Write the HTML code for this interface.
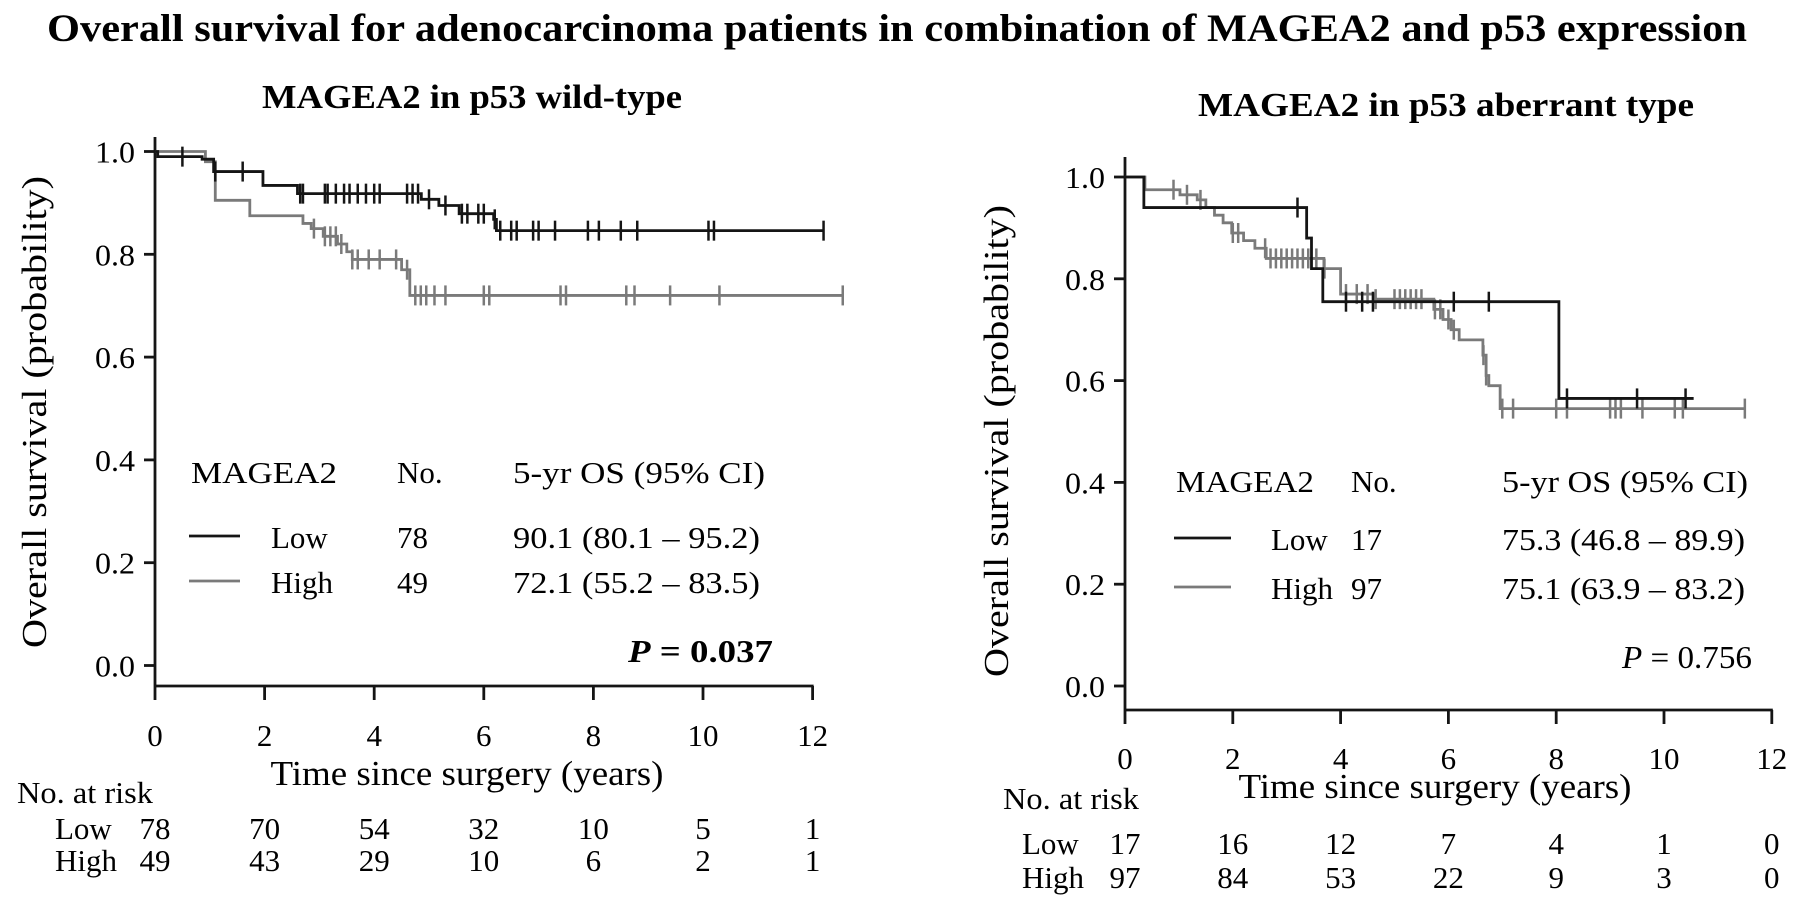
<!DOCTYPE html>
<html><head><meta charset="utf-8">
<style>
html,body{margin:0;padding:0;background:#fff;}
svg{display:block;font-family:"Liberation Serif",serif;}
</style></head>
<body>
<svg id="chart" width="1795" height="904" viewBox="0 0 1795 904" xmlns="http://www.w3.org/2000/svg">
<text x="897" y="41" text-anchor="middle" font-size="39" font-weight="bold" textLength="1700" lengthAdjust="spacingAndGlyphs">Overall survival  for adenocarcinoma patients in combination of MAGEA2 and p53 expression</text>
<text x="472" y="108" text-anchor="middle" font-size="34" font-weight="bold" textLength="420" lengthAdjust="spacingAndGlyphs">MAGEA2 in p53 wild-type</text>
<text x="1446" y="116" text-anchor="middle" font-size="34" font-weight="bold" textLength="496" lengthAdjust="spacingAndGlyphs">MAGEA2 in p53 aberrant type</text>
<g id="left"></g>
<g id="right"></g>
</svg>
<script>
// ---- data ----
const xTicks = [0,2,4,6,8,10,12];
const yTicks = [0.0,0.2,0.4,0.6,0.8,1.0];
const yTickLabels = ["0.0","0.2","0.4","0.6","0.8","1.0"];

// Left panel (p53 wild-type)
const wtLowTimes = [0,0.05,0.86,1.07,1.97,2.6,4.86,5.18,5.55,6.18,6.23,12.2];
const wtLowSurv  = [1.0,0.99,0.985,0.961,0.934,0.918,0.907,0.895,0.879,0.868,0.846,0.846];
const wtLowCens  = [0.5,1.1,1.6,2.65,2.7,3.1,3.15,3.3,3.45,3.55,3.7,3.85,4.0,4.1,4.6,4.7,4.8,5.0,5.3,5.6,5.7,5.9,6.0,6.2,6.3,6.5,6.6,6.9,7.0,7.3,7.9,8.1,8.5,8.8,10.1,10.2,12.2];
const wtHighTimes = [0,0.92,1.1,1.73,2.7,2.85,3.07,3.33,3.5,3.6,4.5,4.65,12.55];
const wtHighSurv  = [1.0,0.98,0.905,0.875,0.86,0.85,0.835,0.82,0.805,0.79,0.77,0.72,0.72];
const wtHighCens  = [2.9,3.1,3.2,3.3,3.4,3.6,3.7,3.9,4.1,4.4,4.6,4.75,4.85,4.95,5.1,5.3,6.0,6.1,7.4,7.5,8.6,8.75,9.4,10.3,12.55];
const wtRiskLow  = [78,70,54,32,10,5,1];
const wtRiskHigh = [49,43,29,10,6,2,1];

// Right panel (p53 aberrant)
const abLowTimes = [0,0.35,3.37,3.46,3.67,8.05,10.55];
const abLowSurv  = [1.0,0.94,0.88,0.82,0.755,0.565,0.565];
const abLowCens  = [3.2,4.1,4.4,4.6,6.1,6.75,8.2,9.5,10.4];
const abHighTimes = [0,0.37,1.02,1.34,1.5,1.66,1.82,1.98,2.2,2.41,2.62,3.69,4.0,4.64,5.73,5.9,6.05,6.2,6.64,6.7,6.75,6.96,11.5];
const abHighSurv  = [1.0,0.975,0.965,0.955,0.94,0.925,0.91,0.89,0.875,0.86,0.84,0.82,0.77,0.76,0.74,0.72,0.70,0.68,0.65,0.61,0.59,0.545,0.545];
const abHighCens  = [0.9,1.15,1.4,2.0,2.1,2.6,2.7,2.8,2.9,3.0,3.1,3.2,3.3,3.4,3.55,3.7,4.1,4.3,4.5,4.65,5.0,5.1,5.2,5.3,5.4,5.5,5.75,5.85,6.0,6.1,6.65,6.7,7.0,7.2,8.0,8.2,9.0,9.1,9.2,9.6,10.2,10.35,11.5];
const abRiskLow  = [17,16,12,7,4,1,0];
const abRiskHigh = [97,84,53,22,9,3,0];

const NS = "http://www.w3.org/2000/svg";
function mk(parent, tag, attrs, txt){
  const e = document.createElementNS(NS, tag);
  for (const k in attrs) e.setAttribute(k, attrs[k]);
  if (txt !== undefined) e.textContent = txt;
  parent.appendChild(e);
  return e;
}
const BLACK = "#151515", GRAY = "#7a7a7a";
const FS = 31;

function panel(g, cfg){
  const X = t => cfg.x0 + t * cfg.pxPerYear;
  const Y = p => cfg.y0 - p * cfg.pxPerUnit;
  const ya = mk(g,"line",{x1:cfg.x0,y1:cfg.axTop,x2:cfg.x0,y2:cfg.xAxisY,stroke:BLACK,"stroke-width":2.8});
  
  
  const xa = mk(g,"line",{x1:cfg.x0-1,y1:cfg.xAxisY,x2:X(12)+1,y2:cfg.xAxisY,stroke:BLACK,"stroke-width":2.8});
  
  
  yTicks.forEach((v,i)=>{
    const tk = mk(g,"line",{x1:cfg.x0-11,y1:Y(v),x2:cfg.x0,y2:Y(v),stroke:BLACK,"stroke-width":2.8});
    
    
    const lb = mk(g,"text",{x:cfg.x0-20,y:Y(v)+11,"text-anchor":"end","font-size":FS,textLength:40,lengthAdjust:"spacingAndGlyphs"},yTickLabels[i]);
    
    
  });
  xTicks.forEach((v,i)=>{
    const tk = mk(g,"line",{x1:X(v),y1:cfg.xAxisY,x2:X(v),y2:cfg.xAxisY+14,stroke:BLACK,"stroke-width":2.8});
    
    
    const lb = mk(g,"text",{x:X(v),y:cfg.xLabY,"text-anchor":"middle","font-size":FS},String(v));
    
    
    const rl = mk(g,"text",{x:X(v),y:cfg.riskLowY,"text-anchor":"middle","font-size":FS},String(cfg.riskLow[i]));
    
    
    const rh = mk(g,"text",{x:X(v),y:cfg.riskHighY,"text-anchor":"middle","font-size":FS},String(cfg.riskHigh[i]));
    
    
  });
  function curve(times, surv, cens, color, name){
    let d = "M"+X(times[0])+","+Y(surv[0]);
    for (let i=1;i<times.length;i++){
      d += " H"+X(times[i])+" V"+Y(surv[i]);
    }
    const p = mk(g,"path",{d:d,fill:"none",stroke:color,"stroke-width":2.8});
    
    
    cens.forEach(t=>{
      let s = surv[0];
      for (let i=0;i<times.length;i++){ if (times[i] <= t) s = surv[i]; }
      const c = mk(g,"line",{x1:X(t),y1:Y(s)-10,x2:X(t),y2:Y(s)+10,stroke:color,"stroke-width":2.5});
      
      
    });
  }
  curve(cfg.highT, cfg.highS, cfg.highC, GRAY, 'high');
  curve(cfg.lowT, cfg.lowS, cfg.lowC, BLACK, 'low');
}

panel(document.getElementById('left'), {
  x0:155, pxPerYear:54.8, y0:665.5, pxPerUnit:514, axTop:137, xAxisY:686, xLabY:746,
  riskLow:wtRiskLow, riskHigh:wtRiskHigh, riskLowY:839, riskHighY:871,
  lowT:wtLowTimes, lowS:wtLowSurv, lowC:wtLowCens,
  highT:wtHighTimes, highS:wtHighSurv, highC:wtHighCens
});
panel(document.getElementById('right'), {
  x0:1125, pxPerYear:53.9, y0:686, pxPerUnit:509, axTop:157, xAxisY:710, xLabY:769,
  riskLow:abRiskLow, riskHigh:abRiskHigh, riskLowY:854, riskHighY:888,
  lowT:abLowTimes, lowS:abLowSurv, lowC:abLowCens,
  highT:abHighTimes, highS:abHighSurv, highC:abHighCens
});
</script>
<svg style="position:absolute;left:0;top:0" width="1795" height="904" xmlns="http://www.w3.org/2000/svg" font-family="Liberation Serif, serif">
<text transform="translate(46,412) rotate(-90)" text-anchor="middle" font-size="35" textLength="472" lengthAdjust="spacingAndGlyphs">Overall survival (probability)</text>
<text x="467" y="785" text-anchor="middle" font-size="35" textLength="393" lengthAdjust="spacingAndGlyphs">Time since surgery (years)</text>
<text x="17" y="803" font-size="31" textLength="136" lengthAdjust="spacingAndGlyphs">No. at risk</text>
<text x="55" y="839" font-size="31">Low</text>
<text x="55" y="871" font-size="31">High</text>
<g font-size="31">
<text x="191" y="483" textLength="146" lengthAdjust="spacingAndGlyphs">MAGEA2</text><text x="397" y="483">No.</text><text x="513" y="483" textLength="252" lengthAdjust="spacingAndGlyphs">5-yr OS (95% CI)</text>
<line x1="189" y1="536" x2="240" y2="536" stroke="#151515" stroke-width="2.8"/>
<text x="271" y="548">Low</text><text x="397" y="548">78</text><text x="513" y="548" textLength="247" lengthAdjust="spacingAndGlyphs">90.1 (80.1 – 95.2)</text>
<line x1="189" y1="581" x2="240" y2="581" stroke="#7a7a7a" stroke-width="2.8"/>
<text x="271" y="593">High</text><text x="397" y="593">49</text><text x="513" y="593" textLength="247" lengthAdjust="spacingAndGlyphs">72.1 (55.2 – 83.5)</text>
</g>
<text x="773" y="662" text-anchor="end" font-size="32" font-weight="bold" textLength="145" lengthAdjust="spacingAndGlyphs"><tspan font-style="italic">P</tspan> = 0.037</text>
<text transform="translate(1008,441) rotate(-90)" text-anchor="middle" font-size="35" textLength="472" lengthAdjust="spacingAndGlyphs">Overall survival (probability)</text>
<text x="1435" y="798" text-anchor="middle" font-size="35" textLength="393" lengthAdjust="spacingAndGlyphs">Time since surgery (years)</text>
<text x="1003" y="809" font-size="31" textLength="136" lengthAdjust="spacingAndGlyphs">No. at risk</text>
<text x="1022" y="854" font-size="31">Low</text>
<text x="1022" y="888" font-size="31">High</text>
<g font-size="31">
<text x="1176" y="492" textLength="138" lengthAdjust="spacingAndGlyphs">MAGEA2</text><text x="1351" y="492">No.</text><text x="1502" y="492" textLength="246" lengthAdjust="spacingAndGlyphs">5-yr OS (95% CI)</text>
<line x1="1174" y1="538" x2="1231" y2="538" stroke="#151515" stroke-width="2.8"/>
<text x="1271" y="550">Low</text><text x="1351" y="550">17</text><text x="1502" y="550" textLength="243" lengthAdjust="spacingAndGlyphs">75.3 (46.8 – 89.9)</text>
<line x1="1174" y1="587" x2="1231" y2="587" stroke="#7a7a7a" stroke-width="2.8"/>
<text x="1271" y="599">High</text><text x="1351" y="599">97</text><text x="1502" y="599" textLength="243" lengthAdjust="spacingAndGlyphs">75.1 (63.9 – 83.2)</text>
</g>
<text x="1752" y="668" text-anchor="end" font-size="32" textLength="130" lengthAdjust="spacingAndGlyphs"><tspan font-style="italic">P</tspan> = 0.756</text>
</svg>
</body></html>
